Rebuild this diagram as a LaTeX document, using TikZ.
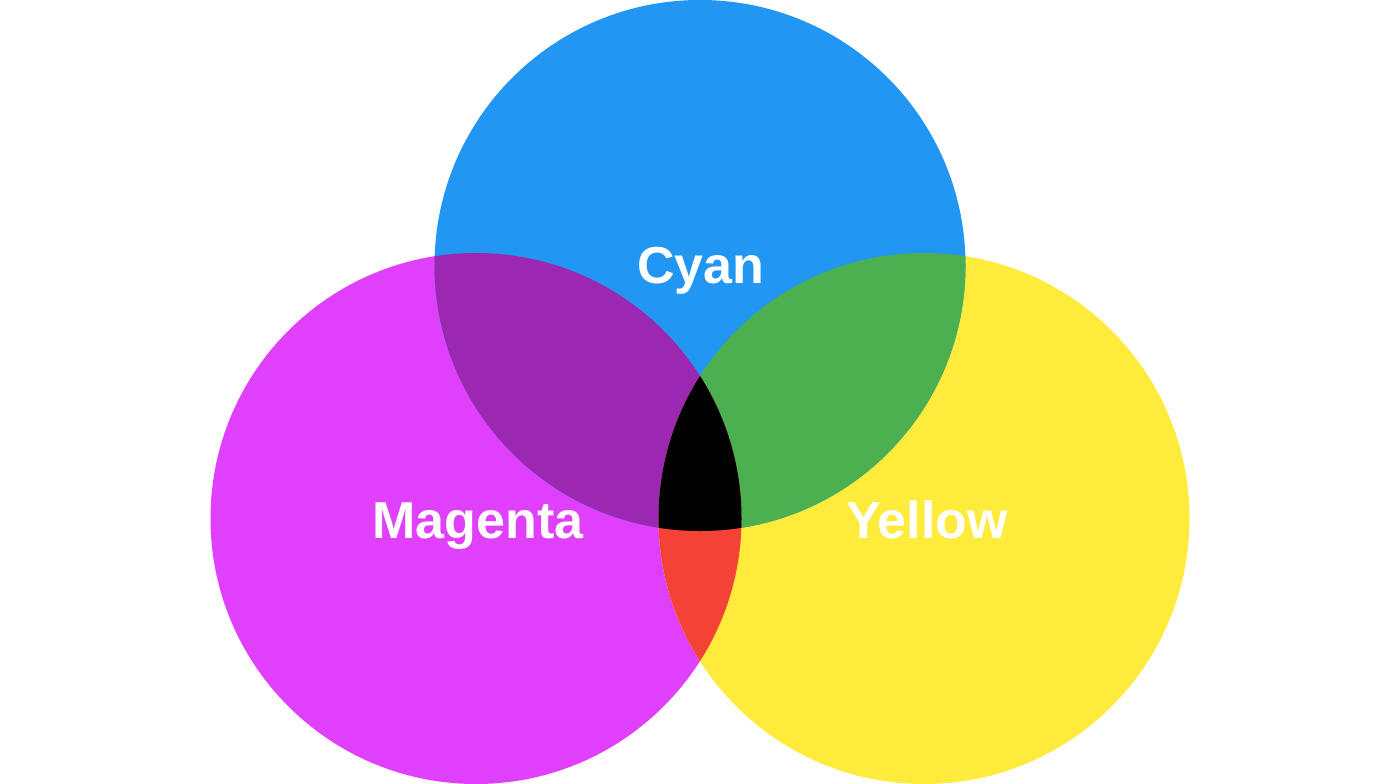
\documentclass[tikz,border=0pt]{standalone}
\usepackage{fontspec}
\setmainfont{Liberation Sans}
\definecolor{cyanC}{HTML}{2196F3}
\definecolor{magC}{HTML}{E040FB}
\definecolor{yelC}{HTML}{FFEB3B}
\definecolor{purC}{HTML}{9C27B0}
\definecolor{grnC}{HTML}{4CAF50}
\definecolor{redC}{HTML}{F44336}
\begin{document}
\begin{tikzpicture}[x=1pt,y=-1pt,
  lbl/.style={text=white,font=\fontsize{52}{62}\selectfont\bfseries,inner sep=0pt,anchor=base}]
\useasboundingbox (0,0) rectangle (1400,784);
\fill[white] (0,0) rectangle (1400,784);
\def\R{265.5}
\coordinate (cc) at (700,265.5);
\coordinate (mc) at (476,518.5);
\coordinate (yc) at (924,518.5);
\fill[magC] (mc) circle[radius=\R];
\fill[yelC] (yc) circle[radius=\R];
\fill[cyanC] (cc) circle[radius=\R];
\begin{scope}
  \clip (cc) circle[radius=\R];
  \fill[purC] (mc) circle[radius=\R];
  \fill[grnC] (yc) circle[radius=\R];
\end{scope}
\begin{scope}
  \clip (mc) circle[radius=\R];
  \fill[redC] (yc) circle[radius=\R];
  \clip (yc) circle[radius=\R];
  \fill[black] (cc) circle[radius=\R];
\end{scope}
\node[lbl] (cyan) at (701,283) {Cyan};
\node[lbl] (magenta) at (478,538) {Magenta};
\node[lbl] (yellow) at (927,538) {Yellow};
\end{tikzpicture}
\end{document}
